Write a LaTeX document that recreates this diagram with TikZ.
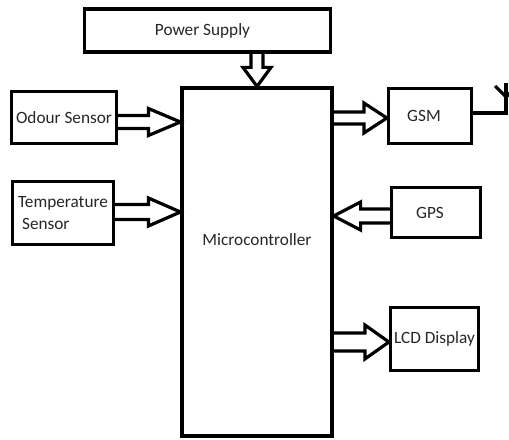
\documentclass[tikz,border=0pt]{standalone}
\usepackage{fontspec}
\setmainfont{Carlito}
\usetikzlibrary{calc}
\tikzset{
  blk/.style={draw, line width=3.2bp, inner sep=1bp, font=\fontsize{17.3}{23}\selectfont, text=black!85},
  arrowline/.style={draw, line width=3.2bp, line join=miter},
}
% #1 from, #2 to, #3 name, #4 head length, #5 shaft half width, #6 head half width
\newcommand\hollowarrow[6]{%
  \path ($(#2)!#4!(#1)$) coordinate (#3h);
  \draw[arrowline]
    ($(#1)!#5!90:(#2)$) -- ($(#3h)!#5!90:(#2)$) -- ($(#3h)!#6!90:(#2)$) -- (#2)
    -- ($(#3h)!#6!-90:(#2)$) -- ($(#3h)!#5!-90:(#2)$) -- ($(#1)!#5!-90:(#2)$);
}
\begin{document}
\begin{tikzpicture}[x=1bp,y=-1bp]
\useasboundingbox (0,0) rectangle (509,440);
\clip (0,0) rectangle (509,440);
\node[blk, minimum width=246bp, minimum height=43bp] (power) at (207.5,30.5) {\raisebox{-2bp}{\hspace*{-10bp}Power Supply}};
\node[blk, minimum width=150bp, minimum height=348bp,
  label={[yshift=22bp, font=\fontsize{17.3}{23}\selectfont, text=black!85]center:Microcontroller}] (micro) at (257,262) {};
\node[blk, minimum width=105bp, minimum height=52bp] (odour) at (64,117.5) {Odour Sensor};
\node[blk, minimum width=101bp, minimum height=63bp, align=left] (temp) at (63,213) {Temperature\\\hspace*{4bp}Sensor};
\node[blk, minimum width=83bp, minimum height=55bp] (gsm) at (430,116) {\hspace*{-12bp}GSM};
\node[blk, minimum width=89bp, minimum height=50bp] (gps) at (436,212.5) {\raisebox{-4bp}{\hspace*{-12bp}GPS}};
\node[blk, minimum width=88bp, minimum height=63bp] (lcd) at (434.5,339) {LCD Display};

\coordinate (pwA) at (power.south -| micro.north);
\hollowarrow{pwA}{micro.north}{pw}{19bp}{6bp}{14bp}
\hollowarrow{odour.east |- 0,122}{micro.west |- 0,122}{od}{32bp}{6.5bp}{13.5bp}
\hollowarrow{temp.east |- 0,212}{micro.west |- 0,212}{tp}{32bp}{7.5bp}{14bp}
\hollowarrow{micro.east |- 0,118}{gsm.west |- 0,118}{gs}{23bp}{6bp}{15bp}
\hollowarrow{gps.west |- 0,216}{micro.east |- 0,216}{gp}{27bp}{7bp}{14bp}
\hollowarrow{micro.east |- 0,342}{lcd.west |- 0,342}{lc}{24bp}{9bp}{17bp}

\coordinate (antA) at (506,113);
\coordinate (antB) at (506,97);
\coordinate (antTop) at (506,83);
\draw[arrowline] (gsm.east |- antA) -- (antA) -- (antTop);
\draw[arrowline] (antB) -- (495,86);
\draw[arrowline] (antB) -- (517,86);
\end{tikzpicture}
\end{document}
